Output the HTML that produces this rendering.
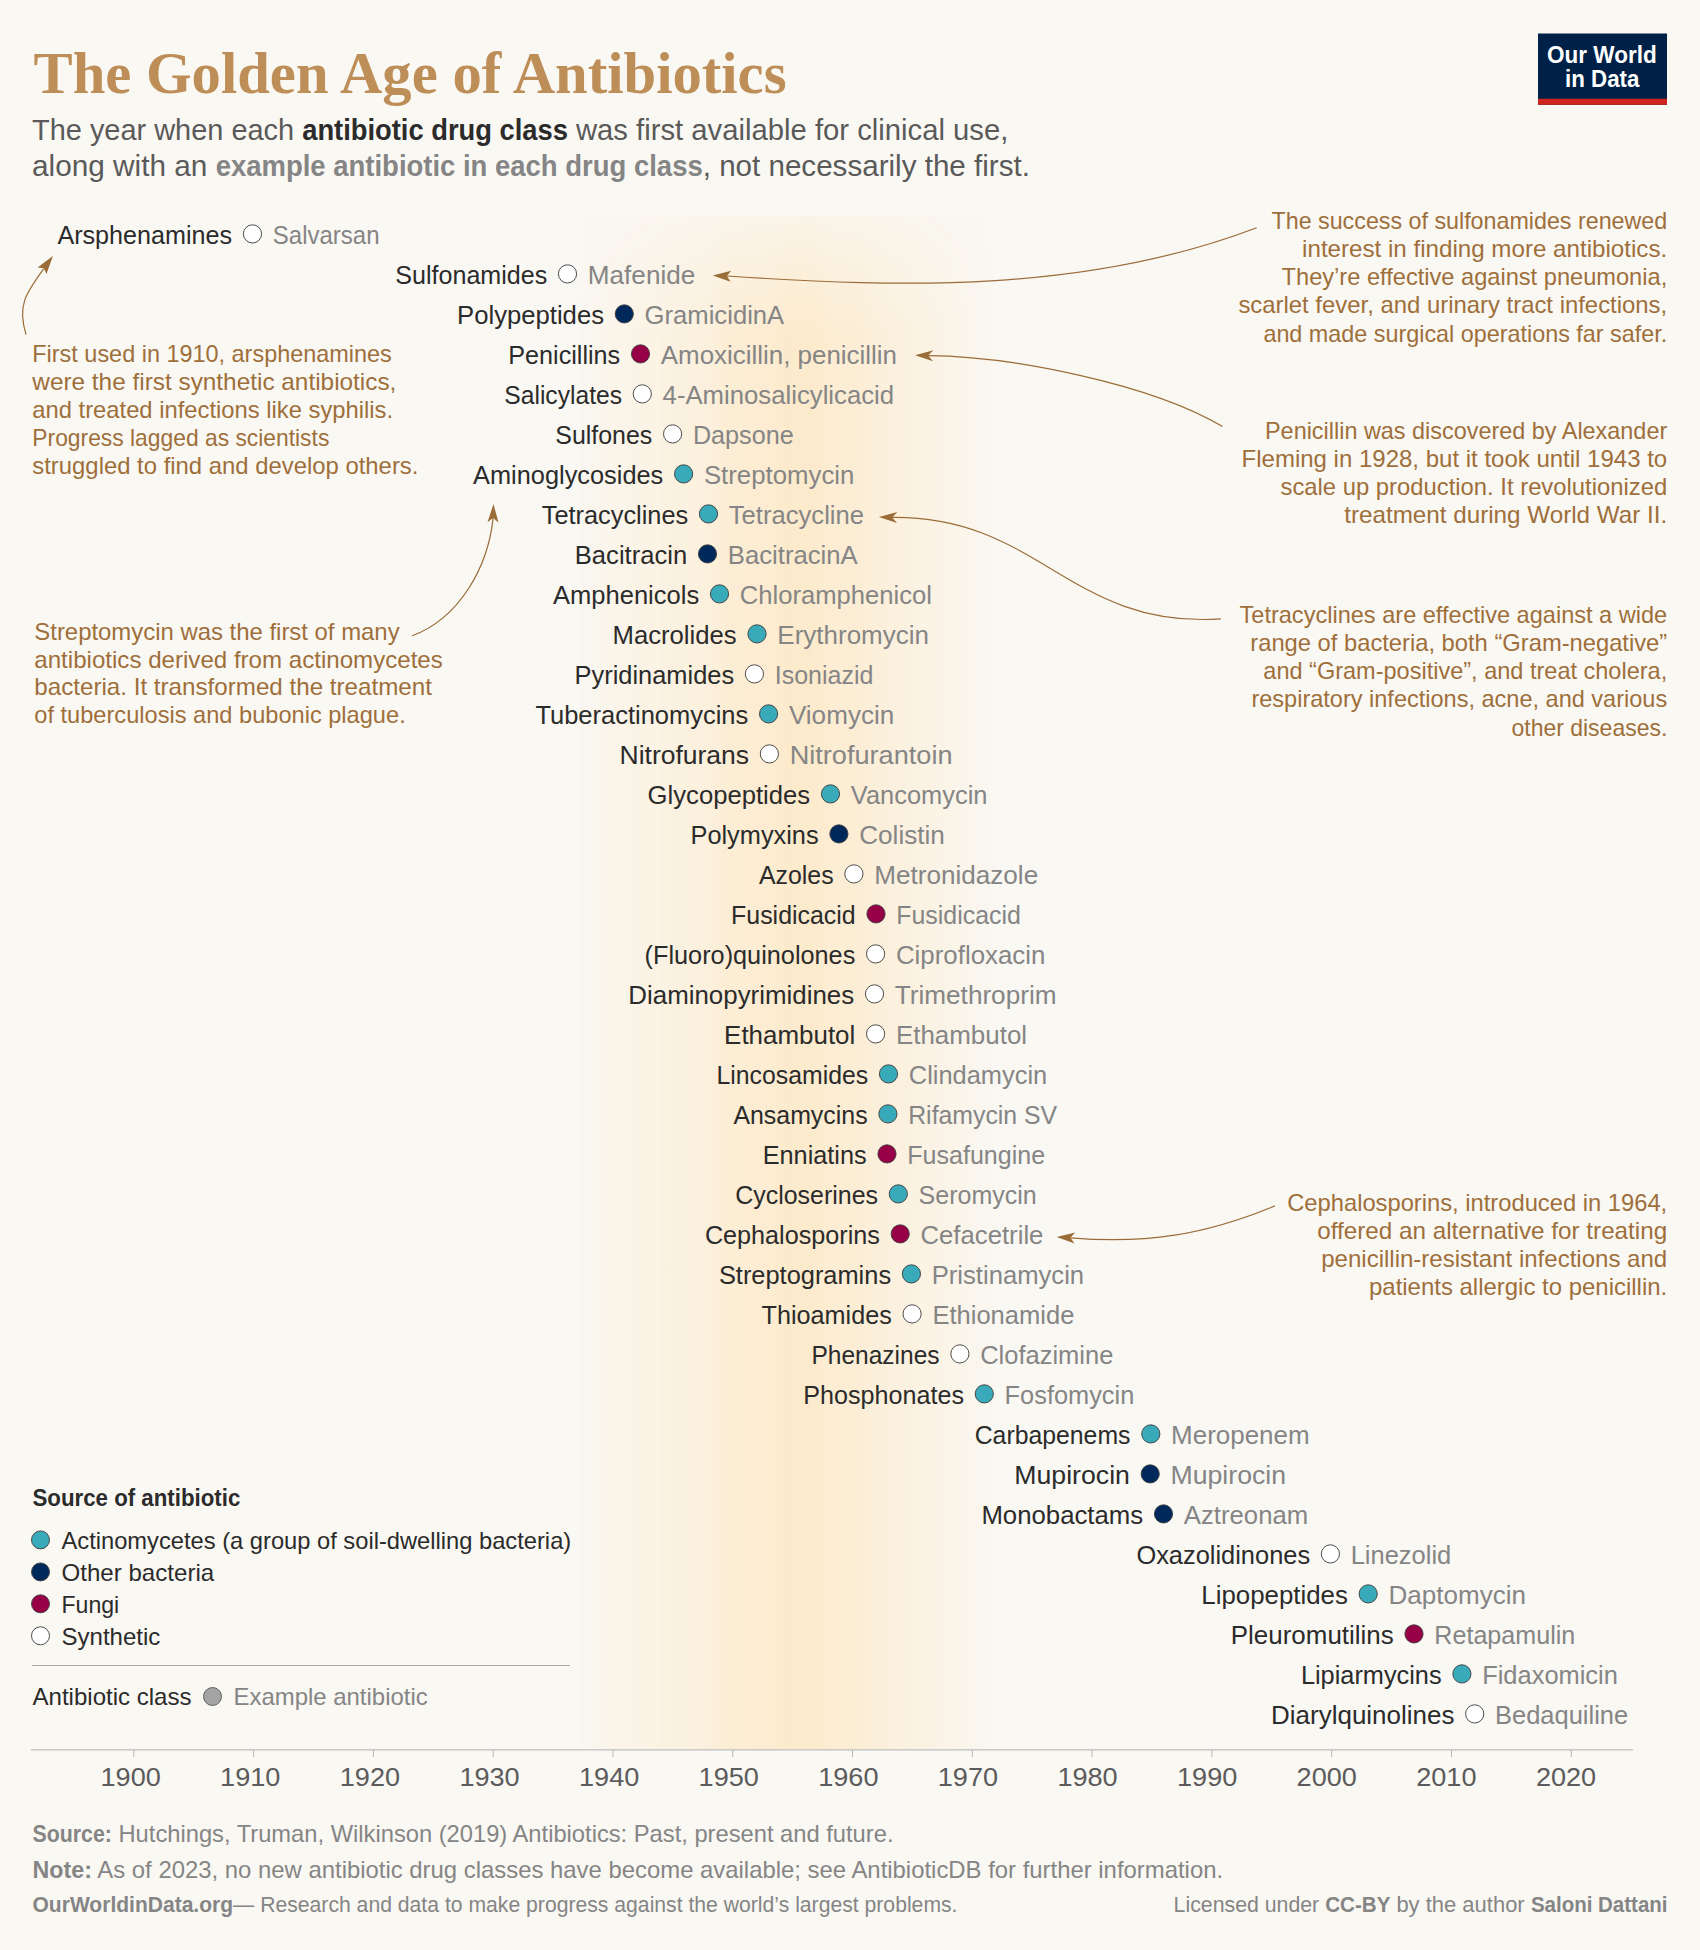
<!DOCTYPE html><html lang="en"><head><meta charset="utf-8"><title>The Golden Age of Antibiotics</title>
<style>html,body{margin:0;padding:0;background:#FAF8F3}svg{display:block}text{white-space:pre}</style></head><body>
<svg width="1700" height="1950" viewBox="0 0 1700 1950">
<defs><linearGradient id="bandg" gradientUnits="userSpaceOnUse" x1="578" y1="0" x2="1000" y2="0"><stop offset="0.0000" stop-color="#FCEACC" stop-opacity="0.00"/><stop offset="0.0095" stop-color="#FCEACC" stop-opacity="0.07"/><stop offset="0.0284" stop-color="#FCEACC" stop-opacity="0.10"/><stop offset="0.0640" stop-color="#FCEACC" stop-opacity="0.18"/><stop offset="0.1090" stop-color="#FCEACC" stop-opacity="0.25"/><stop offset="0.1469" stop-color="#FCEACC" stop-opacity="0.32"/><stop offset="0.1943" stop-color="#FCEACC" stop-opacity="0.40"/><stop offset="0.2536" stop-color="#FCEACC" stop-opacity="0.50"/><stop offset="0.3175" stop-color="#FCEACC" stop-opacity="0.58"/><stop offset="0.3460" stop-color="#FCEACC" stop-opacity="0.78"/><stop offset="0.3957" stop-color="#FCEACC" stop-opacity="0.82"/><stop offset="0.4550" stop-color="#FCEACC" stop-opacity="0.88"/><stop offset="0.4976" stop-color="#FCEACC" stop-opacity="0.99"/><stop offset="0.5498" stop-color="#FCEACC" stop-opacity="1.00"/><stop offset="0.5735" stop-color="#FCEACC" stop-opacity="0.94"/><stop offset="0.6019" stop-color="#FCEACC" stop-opacity="0.82"/><stop offset="0.6682" stop-color="#FCEACC" stop-opacity="0.78"/><stop offset="0.6967" stop-color="#FCEACC" stop-opacity="0.66"/><stop offset="0.7393" stop-color="#FCEACC" stop-opacity="0.56"/><stop offset="0.7986" stop-color="#FCEACC" stop-opacity="0.45"/><stop offset="0.8578" stop-color="#FCEACC" stop-opacity="0.32"/><stop offset="0.9100" stop-color="#FCEACC" stop-opacity="0.20"/><stop offset="0.9573" stop-color="#FCEACC" stop-opacity="0.09"/><stop offset="1.0000" stop-color="#FCEACC" stop-opacity="0.00"/></linearGradient><linearGradient id="fadeg" gradientUnits="userSpaceOnUse" x1="0" y1="215.5" x2="0" y2="335"><stop offset="0" stop-color="#444"/><stop offset="0.5" stop-color="#aaa"/><stop offset="1" stop-color="#fff"/></linearGradient><mask id="bandm" maskUnits="userSpaceOnUse" x="570" y="200" width="440" height="1560"><rect x="570" y="200" width="440" height="1560" fill="url(#fadeg)"/></mask></defs>
<rect width="1700" height="1950" fill="#FAF8F3"/>
<rect x="578" y="215.5" width="422" height="1533.5" fill="url(#bandg)" mask="url(#bandm)"/>
<rect x="1538" y="33.5" width="129" height="71.3" fill="#002147"/><rect x="1538" y="98.8" width="129" height="6" fill="#CE261E"/>
<g stroke="#bdbdbd" stroke-width="1.3"><line x1="31" y1="1749.8" x2="1632.9" y2="1749.8"/></g>
<g stroke="#b5b5b5" stroke-width="1">
<line x1="133.8" y1="1750" x2="133.8" y2="1757"/>
<line x1="253.6" y1="1750" x2="253.6" y2="1757"/>
<line x1="373.4" y1="1750" x2="373.4" y2="1757"/>
<line x1="493.2" y1="1750" x2="493.2" y2="1757"/>
<line x1="613.0" y1="1750" x2="613.0" y2="1757"/>
<line x1="732.8" y1="1750" x2="732.8" y2="1757"/>
<line x1="852.5" y1="1750" x2="852.5" y2="1757"/>
<line x1="972.3" y1="1750" x2="972.3" y2="1757"/>
<line x1="1092.1" y1="1750" x2="1092.1" y2="1757"/>
<line x1="1211.9" y1="1750" x2="1211.9" y2="1757"/>
<line x1="1331.7" y1="1750" x2="1331.7" y2="1757"/>
<line x1="1451.5" y1="1750" x2="1451.5" y2="1757"/>
<line x1="1571.3" y1="1750" x2="1571.3" y2="1757"/>
</g>
<circle cx="40.5" cy="1539.9" r="9.0" fill="#38AABA" stroke="#3a3a3a" stroke-width="0.9"/>
<circle cx="40.5" cy="1571.9" r="9.0" fill="#00295B" stroke="#3a3a3a" stroke-width="0.9"/>
<circle cx="40.5" cy="1603.8" r="9.0" fill="#970046" stroke="#3a3a3a" stroke-width="0.9"/>
<circle cx="40.5" cy="1635.8" r="9.0" fill="#ffffff" stroke="#3a3a3a" stroke-width="0.9"/>
<line x1="32" y1="1665.5" x2="570" y2="1665.5" stroke="#a9a9a9" stroke-width="1"/>
<circle cx="212.5" cy="1696.5" r="9.0" fill="#a3a3a3" stroke="#555" stroke-width="0.9"/>
<path d="M1256.7,227.7 C1087.9,292.2 904.4,288.1 726.8,276.0" fill="none" stroke="#9A6C38" stroke-width="1.2"/>
<path d="M712.7,275.4 L731.2,270.7 L726.8,276.0 L730.7,281.7 Z" fill="#9A6C38"/>
<path d="M1222.6,426.6 C1150.7,383.9 1012.0,356.3 928.0,355.6" fill="none" stroke="#9A6C38" stroke-width="1.2"/>
<path d="M915.0,355.2 L933.5,350.3 L928.0,355.6 L933.1,361.3 Z" fill="#9A6C38"/>
<path d="M1220.9,618.9 C1069.7,629.0 1040.2,515.9 892.2,517.4" fill="none" stroke="#9A6C38" stroke-width="1.2"/>
<path d="M878.9,517.0 L897.4,512.1 L892.2,517.4 L897.0,523.0 Z" fill="#9A6C38"/>
<path d="M1274.8,1205.9 C1204.4,1235.0 1145.8,1244.3 1070.4,1237.8" fill="none" stroke="#9A6C38" stroke-width="1.2"/>
<path d="M1056.6,1237.1 L1075.2,1232.5 L1070.4,1237.8 L1074.6,1243.5 Z" fill="#9A6C38"/>
<path d="M26.0,334.6 C16.8,304.6 26.7,292.3 43.8,268.6" fill="none" stroke="#9A6C38" stroke-width="1.2"/>
<path d="M52.9,256.1 L46.5,274.1 L43.9,268.3 L37.6,267.6 Z" fill="#9A6C38"/>
<path d="M412.2,635.8 C459.8,617.8 488.0,566.8 493.1,518.1" fill="none" stroke="#9A6C38" stroke-width="1.2"/>
<path d="M493.5,504.1 L498.5,522.5 L493.1,518.1 L487.5,522.2 Z" fill="#9A6C38"/>
<circle cx="252.5" cy="233.9" r="9.1" fill="#ffffff" stroke="#3a3a3a" stroke-width="0.9"/>
<circle cx="567.5" cy="273.9" r="9.1" fill="#ffffff" stroke="#3a3a3a" stroke-width="0.9"/>
<circle cx="624.3" cy="313.9" r="9.1" fill="#00295B" stroke="#3a3a3a" stroke-width="0.9"/>
<circle cx="640.5" cy="353.9" r="9.1" fill="#970046" stroke="#3a3a3a" stroke-width="0.9"/>
<circle cx="642.3" cy="393.9" r="9.1" fill="#ffffff" stroke="#3a3a3a" stroke-width="0.9"/>
<circle cx="672.6" cy="433.9" r="9.1" fill="#ffffff" stroke="#3a3a3a" stroke-width="0.9"/>
<circle cx="683.6" cy="473.9" r="9.1" fill="#38AABA" stroke="#3a3a3a" stroke-width="0.9"/>
<circle cx="708.5" cy="513.9" r="9.1" fill="#38AABA" stroke="#3a3a3a" stroke-width="0.9"/>
<circle cx="707.5" cy="553.9" r="9.1" fill="#00295B" stroke="#3a3a3a" stroke-width="0.9"/>
<circle cx="719.5" cy="593.9" r="9.1" fill="#38AABA" stroke="#3a3a3a" stroke-width="0.9"/>
<circle cx="757.0" cy="633.9" r="9.1" fill="#38AABA" stroke="#3a3a3a" stroke-width="0.9"/>
<circle cx="754.4" cy="673.9" r="9.1" fill="#ffffff" stroke="#3a3a3a" stroke-width="0.9"/>
<circle cx="768.6" cy="713.9" r="9.1" fill="#38AABA" stroke="#3a3a3a" stroke-width="0.9"/>
<circle cx="769.4" cy="753.9" r="9.1" fill="#ffffff" stroke="#3a3a3a" stroke-width="0.9"/>
<circle cx="830.5" cy="793.9" r="9.1" fill="#38AABA" stroke="#3a3a3a" stroke-width="0.9"/>
<circle cx="838.9" cy="833.9" r="9.1" fill="#00295B" stroke="#3a3a3a" stroke-width="0.9"/>
<circle cx="853.9" cy="873.9" r="9.1" fill="#ffffff" stroke="#3a3a3a" stroke-width="0.9"/>
<circle cx="876.0" cy="913.9" r="9.1" fill="#970046" stroke="#3a3a3a" stroke-width="0.9"/>
<circle cx="875.6" cy="953.9" r="9.1" fill="#ffffff" stroke="#3a3a3a" stroke-width="0.9"/>
<circle cx="874.5" cy="993.9" r="9.1" fill="#ffffff" stroke="#3a3a3a" stroke-width="0.9"/>
<circle cx="875.6" cy="1033.9" r="9.1" fill="#ffffff" stroke="#3a3a3a" stroke-width="0.9"/>
<circle cx="888.5" cy="1073.9" r="9.1" fill="#38AABA" stroke="#3a3a3a" stroke-width="0.9"/>
<circle cx="887.9" cy="1113.9" r="9.1" fill="#38AABA" stroke="#3a3a3a" stroke-width="0.9"/>
<circle cx="887.0" cy="1153.9" r="9.1" fill="#970046" stroke="#3a3a3a" stroke-width="0.9"/>
<circle cx="898.3" cy="1193.9" r="9.1" fill="#38AABA" stroke="#3a3a3a" stroke-width="0.9"/>
<circle cx="900.2" cy="1233.9" r="9.1" fill="#970046" stroke="#3a3a3a" stroke-width="0.9"/>
<circle cx="911.4" cy="1273.9" r="9.1" fill="#38AABA" stroke="#3a3a3a" stroke-width="0.9"/>
<circle cx="912.1" cy="1313.9" r="9.1" fill="#ffffff" stroke="#3a3a3a" stroke-width="0.9"/>
<circle cx="959.9" cy="1353.9" r="9.1" fill="#ffffff" stroke="#3a3a3a" stroke-width="0.9"/>
<circle cx="984.3" cy="1393.9" r="9.1" fill="#38AABA" stroke="#3a3a3a" stroke-width="0.9"/>
<circle cx="1150.8" cy="1433.9" r="9.1" fill="#38AABA" stroke="#3a3a3a" stroke-width="0.9"/>
<circle cx="1150.2" cy="1473.9" r="9.1" fill="#00295B" stroke="#3a3a3a" stroke-width="0.9"/>
<circle cx="1163.5" cy="1513.9" r="9.1" fill="#00295B" stroke="#3a3a3a" stroke-width="0.9"/>
<circle cx="1330.4" cy="1553.9" r="9.1" fill="#ffffff" stroke="#3a3a3a" stroke-width="0.9"/>
<circle cx="1368.2" cy="1593.9" r="9.1" fill="#38AABA" stroke="#3a3a3a" stroke-width="0.9"/>
<circle cx="1414.0" cy="1633.9" r="9.1" fill="#970046" stroke="#3a3a3a" stroke-width="0.9"/>
<circle cx="1461.9" cy="1673.9" r="9.1" fill="#38AABA" stroke="#3a3a3a" stroke-width="0.9"/>
<circle cx="1474.7" cy="1713.9" r="9.1" fill="#ffffff" stroke="#3a3a3a" stroke-width="0.9"/>
<text x="33.5" y="93.0" font-family="'Liberation Serif', serif" font-size="60" fill="#BE8E58" font-weight="bold" textLength="753.0" lengthAdjust="spacingAndGlyphs">The Golden Age of Antibiotics</text>
<text x="32.0" y="139.5" font-family="'Liberation Sans', sans-serif" font-size="30" fill="#5a5a5a" textLength="270.2" lengthAdjust="spacingAndGlyphs">The year when each </text>
<text x="302.2" y="139.5" font-family="'Liberation Sans', sans-serif" font-size="30" fill="#2b2b2b" font-weight="bold" textLength="265.7" lengthAdjust="spacingAndGlyphs">antibiotic drug class</text>
<text x="567.8" y="139.5" font-family="'Liberation Sans', sans-serif" font-size="30" fill="#5a5a5a" textLength="440.6" lengthAdjust="spacingAndGlyphs"> was first available for clinical use,</text>
<text x="32.0" y="175.5" font-family="'Liberation Sans', sans-serif" font-size="30" fill="#5a5a5a" textLength="183.7" lengthAdjust="spacingAndGlyphs">along with an </text>
<text x="215.7" y="175.5" font-family="'Liberation Sans', sans-serif" font-size="30" fill="#858585" font-weight="bold" textLength="487.0" lengthAdjust="spacingAndGlyphs">example antibiotic in each drug class</text>
<text x="702.7" y="175.5" font-family="'Liberation Sans', sans-serif" font-size="30" fill="#5a5a5a" textLength="327.2" lengthAdjust="spacingAndGlyphs">, not necessarily the first.</text>
<text x="57.4" y="243.7" font-family="'Liberation Sans', sans-serif" font-size="25.9" fill="#2b2b2b" textLength="174.8" lengthAdjust="spacingAndGlyphs">Arsphenamines</text>
<text x="272.8" y="243.7" font-family="'Liberation Sans', sans-serif" font-size="25.9" fill="#858585" textLength="106.7" lengthAdjust="spacingAndGlyphs">Salvarsan</text>
<text x="395.3" y="283.7" font-family="'Liberation Sans', sans-serif" font-size="25.9" fill="#2b2b2b" textLength="151.9" lengthAdjust="spacingAndGlyphs">Sulfonamides</text>
<text x="587.8" y="283.7" font-family="'Liberation Sans', sans-serif" font-size="25.9" fill="#858585" textLength="107.5" lengthAdjust="spacingAndGlyphs">Mafenide</text>
<text x="457.1" y="323.7" font-family="'Liberation Sans', sans-serif" font-size="25.9" fill="#2b2b2b" textLength="146.9" lengthAdjust="spacingAndGlyphs">Polypeptides</text>
<text x="644.6" y="323.7" font-family="'Liberation Sans', sans-serif" font-size="25.9" fill="#858585" textLength="139.6" lengthAdjust="spacingAndGlyphs">GramicidinA</text>
<text x="508.3" y="363.7" font-family="'Liberation Sans', sans-serif" font-size="25.9" fill="#2b2b2b" textLength="111.9" lengthAdjust="spacingAndGlyphs">Penicillins</text>
<text x="660.8" y="363.7" font-family="'Liberation Sans', sans-serif" font-size="25.9" fill="#858585" textLength="236.2" lengthAdjust="spacingAndGlyphs">Amoxicillin, penicillin</text>
<text x="504.3" y="403.7" font-family="'Liberation Sans', sans-serif" font-size="25.9" fill="#2b2b2b" textLength="117.7" lengthAdjust="spacingAndGlyphs">Salicylates</text>
<text x="662.6" y="403.7" font-family="'Liberation Sans', sans-serif" font-size="25.9" fill="#858585" textLength="231.5" lengthAdjust="spacingAndGlyphs">4-Aminosalicylicacid</text>
<text x="555.3" y="443.7" font-family="'Liberation Sans', sans-serif" font-size="25.9" fill="#2b2b2b" textLength="97.0" lengthAdjust="spacingAndGlyphs">Sulfones</text>
<text x="692.9" y="443.7" font-family="'Liberation Sans', sans-serif" font-size="25.9" fill="#858585" textLength="100.8" lengthAdjust="spacingAndGlyphs">Dapsone</text>
<text x="473.1" y="483.7" font-family="'Liberation Sans', sans-serif" font-size="25.9" fill="#2b2b2b" textLength="190.2" lengthAdjust="spacingAndGlyphs">Aminoglycosides</text>
<text x="703.9" y="483.7" font-family="'Liberation Sans', sans-serif" font-size="25.9" fill="#858585" textLength="150.5" lengthAdjust="spacingAndGlyphs">Streptomycin</text>
<text x="541.8" y="523.7" font-family="'Liberation Sans', sans-serif" font-size="25.9" fill="#2b2b2b" textLength="146.4" lengthAdjust="spacingAndGlyphs">Tetracyclines</text>
<text x="728.8" y="523.7" font-family="'Liberation Sans', sans-serif" font-size="25.9" fill="#858585" textLength="135.2" lengthAdjust="spacingAndGlyphs">Tetracycline</text>
<text x="574.8" y="563.7" font-family="'Liberation Sans', sans-serif" font-size="25.9" fill="#2b2b2b" textLength="112.4" lengthAdjust="spacingAndGlyphs">Bacitracin</text>
<text x="727.8" y="563.7" font-family="'Liberation Sans', sans-serif" font-size="25.9" fill="#858585" textLength="129.9" lengthAdjust="spacingAndGlyphs">BacitracinA</text>
<text x="553.0" y="603.7" font-family="'Liberation Sans', sans-serif" font-size="25.9" fill="#2b2b2b" textLength="146.2" lengthAdjust="spacingAndGlyphs">Amphenicols</text>
<text x="739.8" y="603.7" font-family="'Liberation Sans', sans-serif" font-size="25.9" fill="#858585" textLength="192.1" lengthAdjust="spacingAndGlyphs">Chloramphenicol</text>
<text x="612.5" y="643.7" font-family="'Liberation Sans', sans-serif" font-size="25.9" fill="#2b2b2b" textLength="124.2" lengthAdjust="spacingAndGlyphs">Macrolides</text>
<text x="777.3" y="643.7" font-family="'Liberation Sans', sans-serif" font-size="25.9" fill="#858585" textLength="151.7" lengthAdjust="spacingAndGlyphs">Erythromycin</text>
<text x="574.6" y="683.7" font-family="'Liberation Sans', sans-serif" font-size="25.9" fill="#2b2b2b" textLength="159.5" lengthAdjust="spacingAndGlyphs">Pyridinamides</text>
<text x="774.7" y="683.7" font-family="'Liberation Sans', sans-serif" font-size="25.9" fill="#858585" textLength="98.7" lengthAdjust="spacingAndGlyphs">Isoniazid</text>
<text x="535.4" y="723.7" font-family="'Liberation Sans', sans-serif" font-size="25.9" fill="#2b2b2b" textLength="212.9" lengthAdjust="spacingAndGlyphs">Tuberactinomycins</text>
<text x="788.9" y="723.7" font-family="'Liberation Sans', sans-serif" font-size="25.9" fill="#858585" textLength="105.4" lengthAdjust="spacingAndGlyphs">Viomycin</text>
<text x="619.5" y="763.7" font-family="'Liberation Sans', sans-serif" font-size="25.9" fill="#2b2b2b" textLength="129.6" lengthAdjust="spacingAndGlyphs">Nitrofurans</text>
<text x="789.7" y="763.7" font-family="'Liberation Sans', sans-serif" font-size="25.9" fill="#858585" textLength="162.8" lengthAdjust="spacingAndGlyphs">Nitrofurantoin</text>
<text x="647.6" y="803.7" font-family="'Liberation Sans', sans-serif" font-size="25.9" fill="#2b2b2b" textLength="162.6" lengthAdjust="spacingAndGlyphs">Glycopeptides</text>
<text x="850.8" y="803.7" font-family="'Liberation Sans', sans-serif" font-size="25.9" fill="#858585" textLength="136.7" lengthAdjust="spacingAndGlyphs">Vancomycin</text>
<text x="690.5" y="843.7" font-family="'Liberation Sans', sans-serif" font-size="25.9" fill="#2b2b2b" textLength="128.1" lengthAdjust="spacingAndGlyphs">Polymyxins</text>
<text x="859.2" y="843.7" font-family="'Liberation Sans', sans-serif" font-size="25.9" fill="#858585" textLength="85.7" lengthAdjust="spacingAndGlyphs">Colistin</text>
<text x="758.9" y="883.7" font-family="'Liberation Sans', sans-serif" font-size="25.9" fill="#2b2b2b" textLength="74.7" lengthAdjust="spacingAndGlyphs">Azoles</text>
<text x="874.2" y="883.7" font-family="'Liberation Sans', sans-serif" font-size="25.9" fill="#858585" textLength="164.0" lengthAdjust="spacingAndGlyphs">Metronidazole</text>
<text x="731.1" y="923.7" font-family="'Liberation Sans', sans-serif" font-size="25.9" fill="#2b2b2b" textLength="124.6" lengthAdjust="spacingAndGlyphs">Fusidicacid</text>
<text x="896.3" y="923.7" font-family="'Liberation Sans', sans-serif" font-size="25.9" fill="#858585" textLength="124.6" lengthAdjust="spacingAndGlyphs">Fusidicacid</text>
<text x="644.6" y="963.7" font-family="'Liberation Sans', sans-serif" font-size="25.9" fill="#2b2b2b" textLength="210.7" lengthAdjust="spacingAndGlyphs">(Fluoro)quinolones</text>
<text x="895.9" y="963.7" font-family="'Liberation Sans', sans-serif" font-size="25.9" fill="#858585" textLength="149.5" lengthAdjust="spacingAndGlyphs">Ciprofloxacin</text>
<text x="628.3" y="1003.7" font-family="'Liberation Sans', sans-serif" font-size="25.9" fill="#2b2b2b" textLength="225.9" lengthAdjust="spacingAndGlyphs">Diaminopyrimidines</text>
<text x="894.8" y="1003.7" font-family="'Liberation Sans', sans-serif" font-size="25.9" fill="#858585" textLength="161.7" lengthAdjust="spacingAndGlyphs">Trimethroprim</text>
<text x="724.1" y="1043.7" font-family="'Liberation Sans', sans-serif" font-size="25.9" fill="#2b2b2b" textLength="131.2" lengthAdjust="spacingAndGlyphs">Ethambutol</text>
<text x="895.9" y="1043.7" font-family="'Liberation Sans', sans-serif" font-size="25.9" fill="#858585" textLength="131.2" lengthAdjust="spacingAndGlyphs">Ethambutol</text>
<text x="716.5" y="1083.7" font-family="'Liberation Sans', sans-serif" font-size="25.9" fill="#2b2b2b" textLength="151.7" lengthAdjust="spacingAndGlyphs">Lincosamides</text>
<text x="908.8" y="1083.7" font-family="'Liberation Sans', sans-serif" font-size="25.9" fill="#858585" textLength="138.4" lengthAdjust="spacingAndGlyphs">Clindamycin</text>
<text x="733.4" y="1123.7" font-family="'Liberation Sans', sans-serif" font-size="25.9" fill="#2b2b2b" textLength="134.2" lengthAdjust="spacingAndGlyphs">Ansamycins</text>
<text x="908.2" y="1123.7" font-family="'Liberation Sans', sans-serif" font-size="25.9" fill="#858585" textLength="149.0" lengthAdjust="spacingAndGlyphs">Rifamycin SV</text>
<text x="762.7" y="1163.7" font-family="'Liberation Sans', sans-serif" font-size="25.9" fill="#2b2b2b" textLength="104.0" lengthAdjust="spacingAndGlyphs">Enniatins</text>
<text x="907.3" y="1163.7" font-family="'Liberation Sans', sans-serif" font-size="25.9" fill="#858585" textLength="137.8" lengthAdjust="spacingAndGlyphs">Fusafungine</text>
<text x="735.2" y="1203.7" font-family="'Liberation Sans', sans-serif" font-size="25.9" fill="#2b2b2b" textLength="142.8" lengthAdjust="spacingAndGlyphs">Cycloserines</text>
<text x="918.6" y="1203.7" font-family="'Liberation Sans', sans-serif" font-size="25.9" fill="#858585" textLength="118.2" lengthAdjust="spacingAndGlyphs">Seromycin</text>
<text x="704.9" y="1243.7" font-family="'Liberation Sans', sans-serif" font-size="25.9" fill="#2b2b2b" textLength="175.0" lengthAdjust="spacingAndGlyphs">Cephalosporins</text>
<text x="920.5" y="1243.7" font-family="'Liberation Sans', sans-serif" font-size="25.9" fill="#858585" textLength="122.9" lengthAdjust="spacingAndGlyphs">Cefacetrile</text>
<text x="718.9" y="1283.7" font-family="'Liberation Sans', sans-serif" font-size="25.9" fill="#2b2b2b" textLength="172.2" lengthAdjust="spacingAndGlyphs">Streptogramins</text>
<text x="931.7" y="1283.7" font-family="'Liberation Sans', sans-serif" font-size="25.9" fill="#858585" textLength="152.4" lengthAdjust="spacingAndGlyphs">Pristinamycin</text>
<text x="761.6" y="1323.7" font-family="'Liberation Sans', sans-serif" font-size="25.9" fill="#2b2b2b" textLength="130.2" lengthAdjust="spacingAndGlyphs">Thioamides</text>
<text x="932.4" y="1323.7" font-family="'Liberation Sans', sans-serif" font-size="25.9" fill="#858585" textLength="142.0" lengthAdjust="spacingAndGlyphs">Ethionamide</text>
<text x="811.4" y="1363.7" font-family="'Liberation Sans', sans-serif" font-size="25.9" fill="#2b2b2b" textLength="128.2" lengthAdjust="spacingAndGlyphs">Phenazines</text>
<text x="980.2" y="1363.7" font-family="'Liberation Sans', sans-serif" font-size="25.9" fill="#858585" textLength="133.2" lengthAdjust="spacingAndGlyphs">Clofazimine</text>
<text x="803.3" y="1403.7" font-family="'Liberation Sans', sans-serif" font-size="25.9" fill="#2b2b2b" textLength="160.7" lengthAdjust="spacingAndGlyphs">Phosphonates</text>
<text x="1004.6" y="1403.7" font-family="'Liberation Sans', sans-serif" font-size="25.9" fill="#858585" textLength="129.7" lengthAdjust="spacingAndGlyphs">Fosfomycin</text>
<text x="974.7" y="1443.7" font-family="'Liberation Sans', sans-serif" font-size="25.9" fill="#2b2b2b" textLength="155.8" lengthAdjust="spacingAndGlyphs">Carbapenems</text>
<text x="1171.1" y="1443.7" font-family="'Liberation Sans', sans-serif" font-size="25.9" fill="#858585" textLength="138.5" lengthAdjust="spacingAndGlyphs">Meropenem</text>
<text x="1014.3" y="1483.7" font-family="'Liberation Sans', sans-serif" font-size="25.9" fill="#2b2b2b" textLength="115.6" lengthAdjust="spacingAndGlyphs">Mupirocin</text>
<text x="1170.5" y="1483.7" font-family="'Liberation Sans', sans-serif" font-size="25.9" fill="#858585" textLength="115.6" lengthAdjust="spacingAndGlyphs">Mupirocin</text>
<text x="981.4" y="1523.7" font-family="'Liberation Sans', sans-serif" font-size="25.9" fill="#2b2b2b" textLength="161.8" lengthAdjust="spacingAndGlyphs">Monobactams</text>
<text x="1183.8" y="1523.7" font-family="'Liberation Sans', sans-serif" font-size="25.9" fill="#858585" textLength="124.4" lengthAdjust="spacingAndGlyphs">Aztreonam</text>
<text x="1136.4" y="1563.7" font-family="'Liberation Sans', sans-serif" font-size="25.9" fill="#2b2b2b" textLength="173.7" lengthAdjust="spacingAndGlyphs">Oxazolidinones</text>
<text x="1350.7" y="1563.7" font-family="'Liberation Sans', sans-serif" font-size="25.9" fill="#858585" textLength="100.6" lengthAdjust="spacingAndGlyphs">Linezolid</text>
<text x="1201.3" y="1603.7" font-family="'Liberation Sans', sans-serif" font-size="25.9" fill="#2b2b2b" textLength="146.6" lengthAdjust="spacingAndGlyphs">Lipopeptides</text>
<text x="1388.5" y="1603.7" font-family="'Liberation Sans', sans-serif" font-size="25.9" fill="#858585" textLength="137.5" lengthAdjust="spacingAndGlyphs">Daptomycin</text>
<text x="1230.8" y="1643.7" font-family="'Liberation Sans', sans-serif" font-size="25.9" fill="#2b2b2b" textLength="162.9" lengthAdjust="spacingAndGlyphs">Pleuromutilins</text>
<text x="1434.3" y="1643.7" font-family="'Liberation Sans', sans-serif" font-size="25.9" fill="#858585" textLength="141.0" lengthAdjust="spacingAndGlyphs">Retapamulin</text>
<text x="1300.9" y="1683.7" font-family="'Liberation Sans', sans-serif" font-size="25.9" fill="#2b2b2b" textLength="140.7" lengthAdjust="spacingAndGlyphs">Lipiarmycins</text>
<text x="1482.2" y="1683.7" font-family="'Liberation Sans', sans-serif" font-size="25.9" fill="#858585" textLength="135.7" lengthAdjust="spacingAndGlyphs">Fidaxomicin</text>
<text x="1271.1" y="1723.7" font-family="'Liberation Sans', sans-serif" font-size="25.9" fill="#2b2b2b" textLength="183.3" lengthAdjust="spacingAndGlyphs">Diarylquinolines</text>
<text x="1495.0" y="1723.7" font-family="'Liberation Sans', sans-serif" font-size="25.9" fill="#858585" textLength="133.2" lengthAdjust="spacingAndGlyphs">Bedaquiline</text>
<text x="1271.5" y="228.8" font-family="'Liberation Sans', sans-serif" font-size="24" fill="#9E6F3B" textLength="395.7" lengthAdjust="spacingAndGlyphs">The success of sulfonamides renewed</text>
<text x="1302.1" y="257.0" font-family="'Liberation Sans', sans-serif" font-size="24" fill="#9E6F3B" textLength="365.1" lengthAdjust="spacingAndGlyphs">interest in finding more antibiotics.</text>
<text x="1281.6" y="285.2" font-family="'Liberation Sans', sans-serif" font-size="24" fill="#9E6F3B" textLength="385.6" lengthAdjust="spacingAndGlyphs">They’re effective against pneumonia,</text>
<text x="1238.4" y="313.4" font-family="'Liberation Sans', sans-serif" font-size="24" fill="#9E6F3B" textLength="428.8" lengthAdjust="spacingAndGlyphs">scarlet fever, and urinary tract infections,</text>
<text x="1263.4" y="341.6" font-family="'Liberation Sans', sans-serif" font-size="24" fill="#9E6F3B" textLength="403.8" lengthAdjust="spacingAndGlyphs">and made surgical operations far safer.</text>
<text x="1265.0" y="438.9" font-family="'Liberation Sans', sans-serif" font-size="24" fill="#9E6F3B" textLength="402.2" lengthAdjust="spacingAndGlyphs">Penicillin was discovered by Alexander</text>
<text x="1241.6" y="467.0" font-family="'Liberation Sans', sans-serif" font-size="24" fill="#9E6F3B" textLength="425.6" lengthAdjust="spacingAndGlyphs">Fleming in 1928, but it took until 1943 to</text>
<text x="1280.5" y="495.1" font-family="'Liberation Sans', sans-serif" font-size="24" fill="#9E6F3B" textLength="386.7" lengthAdjust="spacingAndGlyphs">scale up production. It revolutionized</text>
<text x="1344.2" y="523.2" font-family="'Liberation Sans', sans-serif" font-size="24" fill="#9E6F3B" textLength="323.0" lengthAdjust="spacingAndGlyphs">treatment during World War II.</text>
<text x="1239.5" y="623.1" font-family="'Liberation Sans', sans-serif" font-size="24" fill="#9E6F3B" textLength="427.7" lengthAdjust="spacingAndGlyphs">Tetracyclines are effective against a wide</text>
<text x="1250.3" y="651.2" font-family="'Liberation Sans', sans-serif" font-size="24" fill="#9E6F3B" textLength="416.9" lengthAdjust="spacingAndGlyphs">range of bacteria, both “Gram-negative”</text>
<text x="1263.3" y="679.3" font-family="'Liberation Sans', sans-serif" font-size="24" fill="#9E6F3B" textLength="403.9" lengthAdjust="spacingAndGlyphs">and “Gram-positive”, and treat cholera,</text>
<text x="1251.4" y="707.4" font-family="'Liberation Sans', sans-serif" font-size="24" fill="#9E6F3B" textLength="415.8" lengthAdjust="spacingAndGlyphs">respiratory infections, acne, and various</text>
<text x="1511.5" y="735.5" font-family="'Liberation Sans', sans-serif" font-size="24" fill="#9E6F3B" textLength="155.8" lengthAdjust="spacingAndGlyphs">other diseases.</text>
<text x="1287.2" y="1211.2" font-family="'Liberation Sans', sans-serif" font-size="24" fill="#9E6F3B" textLength="380.0" lengthAdjust="spacingAndGlyphs">Cephalosporins, introduced in 1964,</text>
<text x="1317.3" y="1239.2" font-family="'Liberation Sans', sans-serif" font-size="24" fill="#9E6F3B" textLength="349.9" lengthAdjust="spacingAndGlyphs">offered an alternative for treating</text>
<text x="1321.2" y="1267.2" font-family="'Liberation Sans', sans-serif" font-size="24" fill="#9E6F3B" textLength="346.0" lengthAdjust="spacingAndGlyphs">penicillin-resistant infections and</text>
<text x="1369.0" y="1295.2" font-family="'Liberation Sans', sans-serif" font-size="24" fill="#9E6F3B" textLength="298.2" lengthAdjust="spacingAndGlyphs">patients allergic to penicillin.</text>
<text x="32.3" y="362.0" font-family="'Liberation Sans', sans-serif" font-size="24" fill="#9E6F3B" textLength="359.5" lengthAdjust="spacingAndGlyphs">First used in 1910, arsphenamines</text>
<text x="32.3" y="390.0" font-family="'Liberation Sans', sans-serif" font-size="24" fill="#9E6F3B" textLength="364.1" lengthAdjust="spacingAndGlyphs">were the first synthetic antibiotics,</text>
<text x="32.3" y="418.0" font-family="'Liberation Sans', sans-serif" font-size="24" fill="#9E6F3B" textLength="360.8" lengthAdjust="spacingAndGlyphs">and treated infections like syphilis.</text>
<text x="32.3" y="446.0" font-family="'Liberation Sans', sans-serif" font-size="24" fill="#9E6F3B" textLength="297.0" lengthAdjust="spacingAndGlyphs">Progress lagged as scientists</text>
<text x="32.3" y="474.0" font-family="'Liberation Sans', sans-serif" font-size="24" fill="#9E6F3B" textLength="386.1" lengthAdjust="spacingAndGlyphs">struggled to find and develop others.</text>
<text x="34.3" y="639.7" font-family="'Liberation Sans', sans-serif" font-size="24" fill="#9E6F3B" textLength="365.3" lengthAdjust="spacingAndGlyphs">Streptomycin was the first of many</text>
<text x="34.3" y="667.5" font-family="'Liberation Sans', sans-serif" font-size="24" fill="#9E6F3B" textLength="408.5" lengthAdjust="spacingAndGlyphs">antibiotics derived from actinomycetes</text>
<text x="34.3" y="695.3" font-family="'Liberation Sans', sans-serif" font-size="24" fill="#9E6F3B" textLength="397.6" lengthAdjust="spacingAndGlyphs">bacteria. It transformed the treatment</text>
<text x="34.3" y="723.1" font-family="'Liberation Sans', sans-serif" font-size="24" fill="#9E6F3B" textLength="371.4" lengthAdjust="spacingAndGlyphs">of tuberculosis and bubonic plague.</text>
<text x="32.5" y="1505.5" font-family="'Liberation Sans', sans-serif" font-size="24" fill="#2b2b2b" font-weight="bold" textLength="207.8" lengthAdjust="spacingAndGlyphs">Source of antibiotic</text>
<text x="61.5" y="1549.4" font-family="'Liberation Sans', sans-serif" font-size="24" fill="#2b2b2b" textLength="509.7" lengthAdjust="spacingAndGlyphs">Actinomycetes (a group of soil-dwelling bacteria)</text>
<text x="61.5" y="1581.4" font-family="'Liberation Sans', sans-serif" font-size="24" fill="#2b2b2b" textLength="152.7" lengthAdjust="spacingAndGlyphs">Other bacteria</text>
<text x="61.5" y="1613.3" font-family="'Liberation Sans', sans-serif" font-size="24" fill="#2b2b2b" textLength="57.7" lengthAdjust="spacingAndGlyphs">Fungi</text>
<text x="61.5" y="1645.2" font-family="'Liberation Sans', sans-serif" font-size="24" fill="#2b2b2b" textLength="98.8" lengthAdjust="spacingAndGlyphs">Synthetic</text>
<text x="32.5" y="1705.3" font-family="'Liberation Sans', sans-serif" font-size="24" fill="#2b2b2b" textLength="159.0" lengthAdjust="spacingAndGlyphs">Antibiotic class</text>
<text x="233.5" y="1705.3" font-family="'Liberation Sans', sans-serif" font-size="24" fill="#858585" textLength="194.2" lengthAdjust="spacingAndGlyphs">Example antibiotic</text>
<text x="100.5" y="1786.0" font-family="'Liberation Sans', sans-serif" font-size="26" fill="#5b5b5b" textLength="60.3" lengthAdjust="spacingAndGlyphs">1900</text>
<text x="220.1" y="1786.0" font-family="'Liberation Sans', sans-serif" font-size="26" fill="#5b5b5b" textLength="60.3" lengthAdjust="spacingAndGlyphs">1910</text>
<text x="339.8" y="1786.0" font-family="'Liberation Sans', sans-serif" font-size="26" fill="#5b5b5b" textLength="60.3" lengthAdjust="spacingAndGlyphs">1920</text>
<text x="459.4" y="1786.0" font-family="'Liberation Sans', sans-serif" font-size="26" fill="#5b5b5b" textLength="60.3" lengthAdjust="spacingAndGlyphs">1930</text>
<text x="579.0" y="1786.0" font-family="'Liberation Sans', sans-serif" font-size="26" fill="#5b5b5b" textLength="60.3" lengthAdjust="spacingAndGlyphs">1940</text>
<text x="698.6" y="1786.0" font-family="'Liberation Sans', sans-serif" font-size="26" fill="#5b5b5b" textLength="60.3" lengthAdjust="spacingAndGlyphs">1950</text>
<text x="818.2" y="1786.0" font-family="'Liberation Sans', sans-serif" font-size="26" fill="#5b5b5b" textLength="60.3" lengthAdjust="spacingAndGlyphs">1960</text>
<text x="937.8" y="1786.0" font-family="'Liberation Sans', sans-serif" font-size="26" fill="#5b5b5b" textLength="60.3" lengthAdjust="spacingAndGlyphs">1970</text>
<text x="1057.4" y="1786.0" font-family="'Liberation Sans', sans-serif" font-size="26" fill="#5b5b5b" textLength="60.3" lengthAdjust="spacingAndGlyphs">1980</text>
<text x="1177.0" y="1786.0" font-family="'Liberation Sans', sans-serif" font-size="26" fill="#5b5b5b" textLength="60.3" lengthAdjust="spacingAndGlyphs">1990</text>
<text x="1296.6" y="1786.0" font-family="'Liberation Sans', sans-serif" font-size="26" fill="#5b5b5b" textLength="60.3" lengthAdjust="spacingAndGlyphs">2000</text>
<text x="1416.2" y="1786.0" font-family="'Liberation Sans', sans-serif" font-size="26" fill="#5b5b5b" textLength="60.3" lengthAdjust="spacingAndGlyphs">2010</text>
<text x="1535.9" y="1786.0" font-family="'Liberation Sans', sans-serif" font-size="26" fill="#5b5b5b" textLength="60.3" lengthAdjust="spacingAndGlyphs">2020</text>
<text x="32.5" y="1841.5" font-family="'Liberation Sans', sans-serif" font-size="24" fill="#858585" font-weight="bold" textLength="79.4" lengthAdjust="spacingAndGlyphs">Source:</text>
<text x="111.9" y="1841.5" font-family="'Liberation Sans', sans-serif" font-size="24" fill="#858585" textLength="781.6" lengthAdjust="spacingAndGlyphs"> Hutchings, Truman, Wilkinson (2019) Antibiotics: Past, present and future.</text>
<text x="32.5" y="1877.5" font-family="'Liberation Sans', sans-serif" font-size="24" fill="#858585" font-weight="bold" textLength="59.5" lengthAdjust="spacingAndGlyphs">Note:</text>
<text x="92.0" y="1877.5" font-family="'Liberation Sans', sans-serif" font-size="24" fill="#858585" textLength="1131.1" lengthAdjust="spacingAndGlyphs"> As of 2023, no new antibiotic drug classes have become available; see AntibioticDB for further information.</text>
<text x="32.5" y="1912.0" font-family="'Liberation Sans', sans-serif" font-size="22" fill="#858585" font-weight="bold" textLength="200.6" lengthAdjust="spacingAndGlyphs">OurWorldinData.org</text>
<text x="233.1" y="1912.0" font-family="'Liberation Sans', sans-serif" font-size="22" fill="#858585" textLength="724.4" lengthAdjust="spacingAndGlyphs">— Research and data to make progress against the world’s largest problems.</text>
<text x="1173.6" y="1912.0" font-family="'Liberation Sans', sans-serif" font-size="22" fill="#858585" textLength="151.5" lengthAdjust="spacingAndGlyphs">Licensed under </text>
<text x="1325.2" y="1912.0" font-family="'Liberation Sans', sans-serif" font-size="22" fill="#858585" font-weight="bold" textLength="65.2" lengthAdjust="spacingAndGlyphs">CC-BY</text>
<text x="1390.3" y="1912.0" font-family="'Liberation Sans', sans-serif" font-size="22" fill="#858585" textLength="140.5" lengthAdjust="spacingAndGlyphs"> by the author </text>
<text x="1530.9" y="1912.0" font-family="'Liberation Sans', sans-serif" font-size="22" fill="#858585" font-weight="bold" textLength="136.6" lengthAdjust="spacingAndGlyphs">Saloni Dattani</text>
<text x="1547.0" y="62.6" font-family="'Liberation Sans', sans-serif" font-size="23.3" fill="#ffffff" font-weight="bold" textLength="109.7" lengthAdjust="spacingAndGlyphs">Our World</text>
<text x="1565.1" y="86.8" font-family="'Liberation Sans', sans-serif" font-size="23.3" fill="#ffffff" font-weight="bold" textLength="74.3" lengthAdjust="spacingAndGlyphs">in Data</text>
</svg></body></html>
